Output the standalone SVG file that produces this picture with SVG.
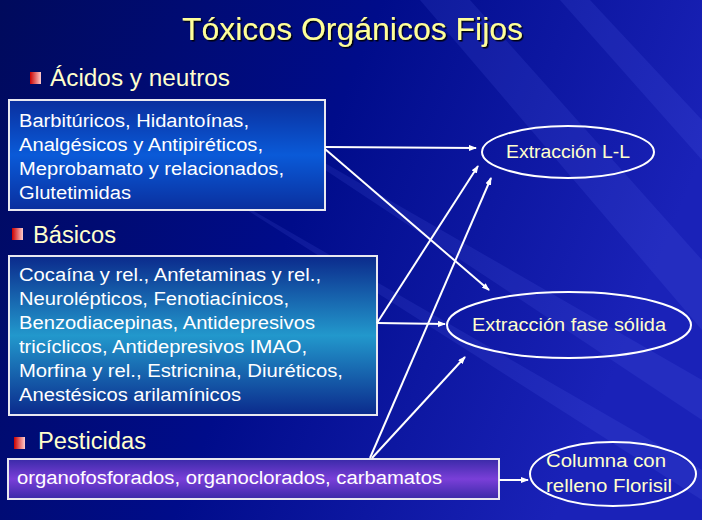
<svg xmlns="http://www.w3.org/2000/svg" width="702" height="520" viewBox="0 0 702 520">
<defs>
<linearGradient id="bg" x1="0" y1="0" x2="1" y2="0.3">
<stop offset="0" stop-color="#000a5c"/>
<stop offset="0.5" stop-color="#000c8a"/>
<stop offset="1" stop-color="#1a22b8"/>
</linearGradient>
<linearGradient id="g1" x1="0" y1="0" x2="0" y2="1">
<stop offset="0" stop-color="#0a2f9e"/>
<stop offset="0.5" stop-color="#0a5ad8"/>
<stop offset="1" stop-color="#0a2f9e"/>
</linearGradient>
<linearGradient id="g2" x1="0" y1="0" x2="0" y2="1">
<stop offset="0" stop-color="#0b2a8c"/>
<stop offset="0.5" stop-color="#2298cc"/>
<stop offset="1" stop-color="#0b2a8c"/>
</linearGradient>
<linearGradient id="g3" x1="0" y1="0" x2="0" y2="1">
<stop offset="0" stop-color="#3a2aa8"/>
<stop offset="0.5" stop-color="#7a3fd8"/>
<stop offset="1" stop-color="#3a2aa8"/>
</linearGradient>
<linearGradient id="bul" x1="0" y1="0" x2="1" y2="0">
<stop offset="0" stop-color="#cc0000"/>
<stop offset="1" stop-color="#ffcccc"/>
</linearGradient>
<marker id="ah" markerWidth="8" markerHeight="6" refX="7" refY="3" orient="auto" markerUnits="userSpaceOnUse">
<path d="M0,0 L8,3 L0,6 Z" fill="#ffffff"/>
</marker>
<filter id="sh" x="-5%" y="-5%" width="110%" height="120%">
<feDropShadow dx="1.5" dy="1.5" stdDeviation="0.5" flood-color="#000000" flood-opacity="0.9"/>
</filter>
</defs>
<style>
.t{font-family:"Liberation Sans",Arial,sans-serif}
.h{font-size:23px;fill:#ffffcc}
.b{font-size:18px;fill:#ffffff}
.e{font-size:18.5px;fill:#ffffcc;text-anchor:middle}
.box{stroke:#e8e8f0;stroke-width:2}
.el{fill:none;stroke:#ffffff;stroke-width:2}
.c{stroke:#ffffff;stroke-width:2;fill:none;marker-end:url(#ah)}
</style>
<rect width="702" height="520" fill="url(#bg)"/>
<g opacity="0.12" fill="#6a7aff">
<polygon points="420,0 470,0 702,260 702,330"/>
<polygon points="560,0 590,0 702,120 702,160"/>
<polygon points="250,120 702,380 702,420"/>
<polygon points="200,180 702,470 702,500"/>
</g>
<g id="title"><text class="t" x="182" y="40" font-size="31" fill="#ffff99" textLength="341" lengthAdjust="spacingAndGlyphs" filter="url(#sh)">Tóxicos Orgánicos Fijos</text></g>
<g id="h1"><rect x="30" y="72" width="11" height="12" fill="url(#bul)"/><text class="t h" x="50" y="86" textLength="180" lengthAdjust="spacingAndGlyphs">Ácidos y neutros</text></g>
<g id="h2"><rect x="12" y="228" width="11" height="12" fill="url(#bul)"/><text class="t h" x="33" y="243" textLength="83" lengthAdjust="spacingAndGlyphs">Básicos</text></g>
<g id="h3"><rect x="14" y="437" width="11" height="12" fill="url(#bul)"/><text class="t h" x="38" y="449" textLength="108" lengthAdjust="spacingAndGlyphs">Pesticidas</text></g>
<g id="box1"><rect class="box" x="9" y="100" width="316" height="110" fill="url(#g1)"/>
<text class="t b" x="19" y="127" textLength="230" lengthAdjust="spacingAndGlyphs">Barbitúricos, Hidantoínas,</text>
<text class="t b" x="19" y="151" textLength="244" lengthAdjust="spacingAndGlyphs">Analgésicos y Antipiréticos,</text>
<text class="t b" x="19" y="175" textLength="265" lengthAdjust="spacingAndGlyphs">Meprobamato y relacionados,</text>
<text class="t b" x="19" y="199" textLength="112" lengthAdjust="spacingAndGlyphs">Glutetimidas</text></g>
<g id="box2"><rect class="box" x="9" y="256" width="368" height="159" fill="url(#g2)"/>
<text class="t b" x="19" y="281" textLength="302" lengthAdjust="spacingAndGlyphs">Cocaína y rel., Anfetaminas y rel.,</text>
<text class="t b" x="19" y="305" textLength="270" lengthAdjust="spacingAndGlyphs">Neurolépticos, Fenotiacínicos,</text>
<text class="t b" x="19" y="329" textLength="296" lengthAdjust="spacingAndGlyphs">Benzodiacepinas, Antidepresivos</text>
<text class="t b" x="19" y="353" textLength="288" lengthAdjust="spacingAndGlyphs">tricíclicos, Antidepresivos IMAO,</text>
<text class="t b" x="19" y="377" textLength="324" lengthAdjust="spacingAndGlyphs">Morfina y rel., Estricnina, Diuréticos,</text>
<text class="t b" x="19" y="401" textLength="222" lengthAdjust="spacingAndGlyphs">Anestésicos arilamínicos</text></g>
<g id="box3"><rect class="box" x="8" y="459" width="491" height="40" fill="url(#g3)"/>
<text class="t b" x="17" y="484" textLength="425" lengthAdjust="spacingAndGlyphs">organofosforados, organoclorados, carbamatos</text></g>
<g id="e1"><ellipse class="el" cx="568" cy="152" rx="86" ry="26"/><text class="t e" x="568" y="158" textLength="124" lengthAdjust="spacingAndGlyphs">Extracción L-L</text></g>
<g id="e2"><ellipse class="el" cx="569" cy="325" rx="122" ry="33"/><text class="t e" x="569" y="331" textLength="194" lengthAdjust="spacingAndGlyphs">Extracción fase sólida</text></g>
<g id="e3"><ellipse class="el" cx="613" cy="474" rx="83" ry="32"/><text class="t e" x="606" y="467" textLength="120" lengthAdjust="spacingAndGlyphs">Columna con</text><text class="t e" x="609" y="492" textLength="126" lengthAdjust="spacingAndGlyphs">relleno Florisil</text></g>
<g id="connectors">
<line class="c" x1="325" y1="147" x2="476" y2="148"/>
<line class="c" x1="325" y1="149" x2="489" y2="290"/>
<line class="c" x1="377" y1="323" x2="445" y2="324"/>
<line class="c" x1="377" y1="323" x2="478" y2="166"/>
<line class="c" x1="370" y1="458" x2="491" y2="178"/>
<line class="c" x1="372" y1="458" x2="465" y2="357"/>
<line class="c" x1="499" y1="480" x2="528" y2="480"/>
</g>
</svg>
